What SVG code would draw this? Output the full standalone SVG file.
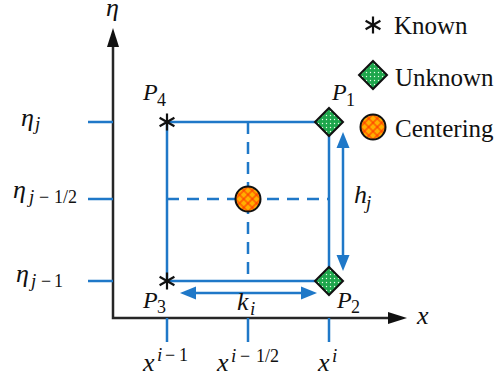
<svg xmlns="http://www.w3.org/2000/svg" xmlns:xlink="http://www.w3.org/1999/xlink" width="499" height="382" viewBox="0 0 499 382">
<style>
.blue{stroke:#1f78c8;stroke-width:2.5;fill:none}
.dash{stroke:#1f78c8;stroke-width:2.5;fill:none;stroke-dasharray:12 8}
.axis{stroke:#262626;stroke-width:2.5;fill:none}
.ast{stroke:#111;stroke-width:2.2;fill:none}
.math{font-family:"Liberation Serif",serif;font-style:italic;font-size:26px;fill:#111}
.pl{font-family:"Liberation Serif",serif;font-style:italic;font-size:24px;fill:#111}
.sub{font-family:"Liberation Serif",serif;font-style:italic;font-size:19px;fill:#111}
.num{font-family:"Liberation Serif",serif;font-size:18px;fill:#111}
.leg{font-family:"Liberation Serif",serif;font-size:25px;fill:#111}
</style>
<defs>
<pattern id="dots" width="4" height="4" patternUnits="userSpaceOnUse"><rect width="4" height="4" fill="#1ea64c"/><circle cx="1.5" cy="1.5" r="0.7" fill="#e8ffe8"/></pattern>
<pattern id="hatch" width="6" height="6" patternUnits="userSpaceOnUse" patternTransform="rotate(45)"><rect width="6" height="6" fill="#ffb000"/><path d="M0 3H6M3 0V6" stroke="#ff3000" stroke-width="1.1"/></pattern>
<marker id="barr" markerUnits="userSpaceOnUse" markerWidth="16" markerHeight="14" viewBox="0 0 16 14" refX="10" refY="7" orient="auto-start-reverse"><path d="M0,0.5 L16,7 L0,13.5 z" fill="#1f78c8"/></marker>
<marker id="karr" markerUnits="userSpaceOnUse" markerWidth="19" markerHeight="13" viewBox="0 0 19 13" refX="13" refY="6.5" orient="auto-start-reverse"><path d="M0,0.5 L19,6.5 L0,12.5 z" fill="#111"/></marker>
<g id="astk"><path class="ast" d="M0,-8.5V8.5M-7.4,-4.25L7.4,4.25M-7.4,4.25L7.4,-4.25"/></g>
<polygon id="dia" points="0,-14 14,0 0,14 -14,0" fill="url(#dots)" stroke="#111" stroke-width="2"/>
<circle id="cir" r="12.5" fill="url(#hatch)" stroke="#111" stroke-width="2"/>
</defs>

<g id="connectors">
<polyline class="axis" points="113,34 113,318 401,318" marker-start="url(#karr)" marker-end="url(#karr)"/>
<path class="blue" d="M88,122H113M88,199H113M88,281H113M167,318V342M248,318V342M329,318V342"/>
<path class="blue" d="M167,122H329V281H167Z"/>
<path class="dash" d="M248,122V281M167,199H329"/>
<line class="blue" x1="343" y1="138" x2="343" y2="265" marker-start="url(#barr)" marker-end="url(#barr)"/>
<line class="blue" x1="186" y1="293" x2="311" y2="293" marker-start="url(#barr)" marker-end="url(#barr)"/>
</g>

<g id="axis-labels">
<text class="math" x="106" y="16">η</text>
<text class="math" x="417" y="324">x</text>
<text class="math" x="21" y="126">η</text><text class="sub" x="35" y="130">j</text>
<text class="math" x="13" y="198">η</text><text class="sub" x="29" y="203">j</text><text class="num" x="39" y="203">−</text><text class="num" x="54" y="203">1/2</text>
<text class="math" x="16" y="282">η</text><text class="sub" x="31" y="287">j</text><text class="num" x="41" y="287">−</text><text class="num" x="54" y="287">1</text>
<text class="math" x="143" y="371">x</text><text class="sub" x="157" y="361">i</text><text class="num" x="165" y="361">−</text><text class="num" x="179" y="361">1</text>
<text class="math" x="217" y="371">x</text><text class="sub" x="231" y="362">i</text><text class="num" x="240" y="362">−</text><text class="num" x="256" y="362">1/2</text>
<text class="math" x="318" y="371">x</text><text class="sub" x="332" y="362">i</text>
<text class="math" x="237" y="310">k</text><text class="sub" x="250" y="315">i</text>
<text class="math" x="354" y="203">h</text><text class="sub" x="366" y="209">j</text>
</g>

<g id="P4"><use xlink:href="#astk" x="167" y="122"/><text class="pl" x="143" y="100">P</text><text class="num" x="157" y="106">4</text></g>
<g id="P3"><use xlink:href="#astk" x="167" y="281"/><text class="pl" x="143" y="308">P</text><text class="num" x="157" y="313">3</text></g>
<g id="P1"><use xlink:href="#dia" x="329" y="122"/><text class="pl" x="332" y="100">P</text><text class="num" x="346" y="106">1</text></g>
<g id="P2"><use xlink:href="#dia" x="329" y="281"/><text class="pl" x="337" y="308">P</text><text class="num" x="351" y="313">2</text></g>
<g id="center"><use xlink:href="#cir" x="248" y="199"/></g>

<g id="legend-known"><use xlink:href="#astk" x="373" y="25"/><text class="leg" x="394" y="34">Known</text></g>
<g id="legend-unknown"><use xlink:href="#dia" x="373" y="75"/><text class="leg" x="395" y="86">Unknown</text></g>
<g id="legend-centering"><use xlink:href="#cir" x="373" y="127"/><text class="leg" x="395" y="137">Centering</text></g>
</svg>
